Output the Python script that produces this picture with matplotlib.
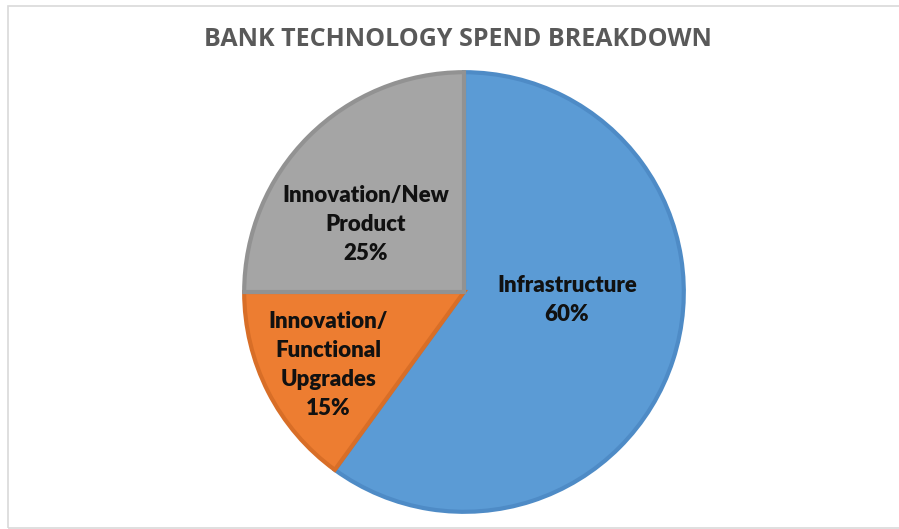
import matplotlib.pyplot as plt
from matplotlib.patches import Rectangle

# datos del grafico
categorias = ['Infrastructure', 'Innovation/\nFunctional\nUpgrades', 'Innovation/New\nProduct']
porcentajes = [60, 15, 25]
colores = ['#5B9BD5', '#ED7D31', '#A5A5A5']
bordes = ['#4E8BC6', '#D86E27', '#929292']
# posicion de cada etiqueta (en radios)
pos_etiquetas = [(0.468, -0.036), (-0.617, -0.333), (-0.446, 0.306)]

fig = plt.figure(figsize=(8.99, 5.29), dpi=100)
fig.patches.append(Rectangle((8 / 899, 1 / 529), 1.0, 522 / 529, transform=fig.transFigure,
                             fill=False, edgecolor='#D9D9D9', linewidth=1.2))

cx, cy, r = 464, 292, 222
ax = fig.add_axes([(cx - r) / 899, (529 - cy - r) / 529, 2 * r / 899, 2 * r / 529])
wedges, _ = ax.pie(porcentajes, colors=colores, startangle=90, counterclock=False,
                   wedgeprops=dict(linewidth=3))
for w, b in zip(wedges, bordes):
    w.set_edgecolor(b)
ax.set_xlim(-1.01, 1.01)
ax.set_ylim(-1.01, 1.01)
ax.set_aspect('equal')
ax.axis('off')

for cat, p, (x, y) in zip(categorias, porcentajes, pos_etiquetas):
    ax.text(x, y, f'{cat}\n{p}%', ha='center', va='center', fontsize=16,
            fontweight='heavy', family='Lato', color='#111111', linespacing=1.48)

fig.text(458 / 899, 1 - 39 / 529, 'BANK TECHNOLOGY SPEND BREAKDOWN', ha='center', va='center',
         fontsize=18, fontweight='bold', family='Open Sans', color='#595959')

fig.savefig('out.png', dpi=100)
